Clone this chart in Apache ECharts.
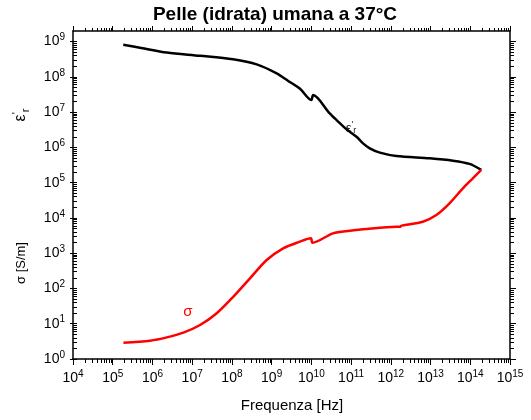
<!DOCTYPE html>
<html>
<head>
<meta charset="utf-8">
<script src="https://cdn.jsdelivr.net/npm/echarts@6/dist/echarts.min.js"></script>
<style>
  html, body { margin: 0; padding: 0; background: #fff; }
  #chart { width: 531px; height: 420px; }
</style>
</head>
<body>
<div id="chart"></div>
<script>
// Frequency sweep for human (hydrated) skin at 37 °C
const titleText = 'Pelle (idrata) umana a 37°C';
const xName = 'Frequenza [Hz]';

// Relative permittivity ε'r
const epsFreq = [1.84e5, 5.2e5, 2.3e6, 1.58e7, 1.07e8, 4.2e8, 1.34e9, 2.57e9, 5.1e9, 9.95e9, 1.11e10,
                 2.9e10, 4.3e10, 7.7e10, 1.37e11, 2.0e11, 2.95e11, 5.3e11, 1.38e12,
                 9.5e12, 3.65e13, 9.6e13, 1.89e14];
const epsVal  = [8.15e8, 6.6e8, 4.9e8, 3.97e8, 3.14e8, 2.27e8, 1.26e8, 7.8e7, 4.67e7, 2.2e7, 3.05e7,
                 9.2e6, 5.97e6, 3.26e6, 2.0e6, 1.3e6, 9.4e5, 7.1e5, 5.7e5,
                 4.9e5, 4.2e5, 3.4e5, 2.3e5];

// Conductivity σ [S/m]
const sigFreq = [1.86e5, 8.7e5, 2.3e6, 6.0e6, 1.58e7, 4.15e7, 1.08e8, 2.85e8, 7.5e8, 1.95e9, 5.1e9,
                 9.7e9, 1.07e10, 3.5e10, 9.3e10, 2.0e11, 1.38e12, 1.68e12, 1.88e12, 6.4e12, 1.4e13,
                 3.0e13, 6.5e13, 1.16e14, 1.89e14];
const sigVal  = [2.9, 3.3, 4.1, 5.6, 9.2, 19.8, 58, 194, 641, 1377, 2120,
                 2640, 1980, 3660, 4340, 4760, 5640, 5620, 6050, 7810, 12100,
                 26000, 69000, 133000, 230000];

// Decade ticks
const xMajor = [1e4, 1e5, 1e6, 1e7, 1e8, 1e9, 1e10, 1e11, 1e12, 1e13, 1e14, 1e15];
const yMajor = [1e0, 1e1, 1e2, 1e3, 1e4, 1e5, 1e6, 1e7, 1e8, 1e9];
const minorMult = [2, 3, 4, 5, 6, 7, 8, 9];

function minorsOf(majors, upTo) {
  const out = [];
  majors.forEach(m => minorMult.forEach(k => { if (k * m < upTo) out.push(k * m); }));
  return out;
}
const xMinor = minorsOf(xMajor.slice(0, -1), 1e15);
const yMinor = minorsOf(yMajor, 2e9);

const FONT = 'Liberation Sans, Arial, sans-serif';
// the tiny pad on the x max keeps the 10^15 tick inside the log extent despite rounding
const X_MIN = 1e4, X_MAX = 1.000001e15, Y_MIN = 1, Y_MAX = 2e9;
const gridBox = { left: 73, right: 21, top: 31, bottom: 61 };

const powRich = {
  b: { fontSize: 14, fontFamily: FONT, color: '#000', lineHeight: 18 },
  e: { fontSize: 10, fontFamily: FONT, color: '#000', lineHeight: 10, verticalAlign: 'top' }
};
const powLabel = v => '{b|10}{e|' + Math.round(Math.log10(v)) + '}';

function xAx(grid, pos, ticks, len, opts) {
  return Object.assign({
    type: 'log', logBase: 10, gridIndex: grid, position: pos, min: X_MIN, max: X_MAX,
    axisLine: { show: grid === 0, onZero: false, lineStyle: { color: '#000', width: 1.5 } },
    axisTick: { show: true, inside: false, length: len, customValues: ticks,
                lineStyle: { color: '#000', width: 1 } },
    axisLabel: { show: false },
    splitLine: { show: false }
  }, opts || {});
}
function yAx(grid, pos, ticks, len, inside, opts) {
  return Object.assign({
    type: 'log', logBase: 10, gridIndex: grid, position: pos, min: Y_MIN, max: Y_MAX,
    axisLine: { show: grid === 0, onZero: false, lineStyle: { color: '#000', width: 1.5 } },
    axisTick: { show: true, inside: inside, length: len, customValues: ticks,
                lineStyle: { color: '#000', width: 1 } },
    axisLabel: { show: false },
    splitLine: { show: false }
  }, opts || {});
}

const chart = echarts.init(document.getElementById('chart'), null, { renderer: 'canvas' });

chart.setOption({
  animation: false,
  backgroundColor: '#fff',
  grid: [Object.assign({}, gridBox), Object.assign({}, gridBox)],
  xAxis: [
    xAx(0, 'bottom', xMajor, 6, {
      axisLabel: { show: true, customValues: xMajor, margin: 10, showMinLabel: true, showMaxLabel: true,
                   hideOverlap: false, formatter: powLabel, rich: powRich }
    }),
    xAx(0, 'top', xMajor, 5),
    xAx(1, 'bottom', xMinor, 4),
    xAx(1, 'top', xMinor, 3)
  ],
  yAxis: [
    yAx(0, 'left', yMajor, 3, false, {
      axisLabel: { show: true, customValues: yMajor, margin: 8, showMinLabel: true, showMaxLabel: true,
                   hideOverlap: false, formatter: powLabel, rich: powRich }
    }),
    yAx(0, 'right', yMajor, 6, false),
    yAx(1, 'left', yMajor.concat(yMinor), 4, true),
    yAx(1, 'right', yMinor, 4, false)
  ],
  series: [
    {
      name: "ε'r", type: 'line', xAxisIndex: 0, yAxisIndex: 0,
      data: epsFreq.map((f, i) => [f, epsVal[i]]),
      showSymbol: false, smooth: 0.3,
      lineStyle: { color: '#000', width: 2.5 }
    },
    {
      name: 'σ', type: 'line', xAxisIndex: 0, yAxisIndex: 0,
      data: sigFreq.map((f, i) => [f, sigVal[i]]),
      showSymbol: false, smooth: 0.3,
      lineStyle: { color: '#ff0000', width: 2.5 }
    }
  ],
  graphic: [
    { type: 'text', x: 275, y: 15,
      style: { text: titleText, font: 'bold 19px ' + FONT, fill: '#000', align: 'center', verticalAlign: 'middle' } },
    { type: 'text', x: 292, y: 406,
      style: { text: xName, font: '15px ' + FONT, fill: '#000', align: 'center', verticalAlign: 'middle' } },
    { type: 'text', x: 21, y: 115, rotation: Math.PI / 2,
      style: {
        text: '{a|ε}{p|\'}{r|r}', align: 'center', verticalAlign: 'middle',
        rich: {
          a: { fontSize: 16, fontFamily: FONT, fill: '#000', lineHeight: 20 },
          p: { fontSize: 11, fontFamily: FONT, fill: '#000', lineHeight: 11, verticalAlign: 'top' },
          r: { fontSize: 11, fontFamily: FONT, fill: '#000', lineHeight: 11, verticalAlign: 'bottom' }
        }
      } },
    { type: 'text', x: 21, y: 263, rotation: Math.PI / 2,
      style: { text: 'σ [S/m]', font: '13px ' + FONT, fill: '#000', align: 'center', verticalAlign: 'middle' } },
    { type: 'text', x: 188, y: 312,
      style: { text: 'σ', font: '15px ' + FONT, fill: '#ff0000', align: 'center', verticalAlign: 'middle' } },
    { type: 'text', x: 351, y: 128,
      style: {
        text: '{a|ε}{p|\'}{r|r}', align: 'center', verticalAlign: 'middle',
        rich: {
          a: { fontSize: 13, fontFamily: FONT, fill: '#222', lineHeight: 15 },
          p: { fontSize: 9, fontFamily: FONT, fill: '#222', lineHeight: 9, verticalAlign: 'top' },
          r: { fontSize: 9, fontFamily: FONT, fill: '#222', lineHeight: 9, verticalAlign: 'bottom' }
        }
      } }
  ]
});
</script>
</body>
</html>
